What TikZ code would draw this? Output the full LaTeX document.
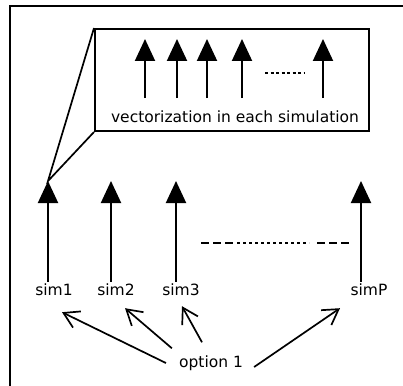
\documentclass[tikz,border=0pt]{standalone}
\usepackage{fontspec}
\setmainfont{DejaVu Sans}
\usetikzlibrary{arrows.meta}

\begin{document}
\begin{tikzpicture}[x=1pt,y=-1pt]
	\tikzset{every node/.style={font=\fontsize{15.5}{18}\selectfont,inner sep=2pt}}
	\tikzset{bigarrow/.style={line width=2pt,-{Triangle[width=20pt,length=22pt]}}}
	\tikzset{barb/.style={line width=1.7pt,-{Straight Barb[width=18pt,length=15pt]}}}
	\tikzset{gapline/.style={line width=2pt}}
	\useasboundingbox (0,0) rectangle (403,385);
	\draw[line width=2pt] (10,400) -- (10,6) -- (420,6);
	\node[draw,line width=2pt,minimum width=274pt,minimum height=102pt] (zoombox) at (232,80) {};
	\node (vec) at (235,117) {vectorization in each simulation};
	\foreach \x in {145,177,207,242,323}
		\draw[bigarrow] (\x,98) -- (\x,39);
	\draw[gapline,dash pattern=on 3pt off 2.5pt] (265,73) -- (304,73);
	\coordinate (t1) at (48,181);
	\coordinate (t2) at (111,181);
	\coordinate (t3) at (176,181);
	\coordinate (tP) at (361,181);
	\node (s1) at (54,290) {sim1};
	\node (s2) at (116,290) {sim2};
	\node (s3) at (181,290) {sim3};
	\node (sP) at (369,290) {simP};
	\node (opt) at (211,363) {option 1};
	\draw[bigarrow] (t1 |- s1.north) -- (t1);
	\draw[bigarrow] (t2 |- s2.north) -- (t2);
	\draw[bigarrow] (t3 |- s3.north) -- (t3);
	\draw[bigarrow] (tP |- sP.north) -- (tP);
	\draw[line width=1.7pt] (zoombox.north west) -- (t1) -- (zoombox.south west);
	\draw[gapline,dash pattern=on 8pt off 4pt] (201,243) -- (234,243);
	\draw[gapline,dash pattern=on 3pt off 3pt] (237,243) -- (309,243);
	\draw[gapline,dash pattern=on 8pt off 4pt] (317,243) -- (349,243);
	\draw[barb] ([shift={(-11,0)}]opt.west) -- ([shift={(8,14)}]s1.south);
	\draw[barb] ([shift={(-5,-5)}]opt.north west) -- ([shift={(9,10)}]s2.south);
	\draw[barb] ([shift={(-9,-11)}]opt.north) -- ([shift={(1,8)}]s3.south);
	\draw[barb] ([shift={(9,4)}]opt.east) -- ([shift={(-29,10)}]sP.south);
\end{tikzpicture}
\end{document}
